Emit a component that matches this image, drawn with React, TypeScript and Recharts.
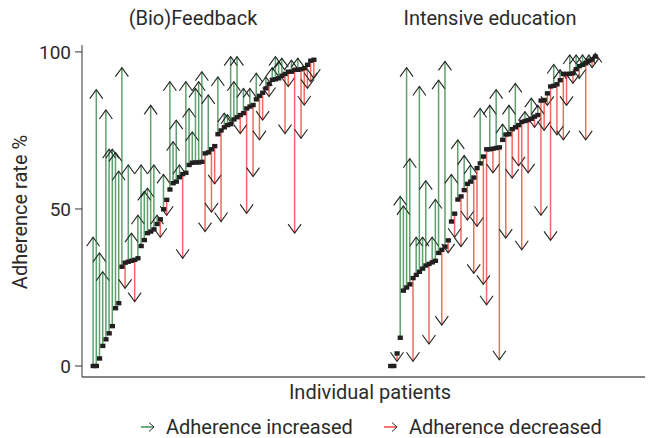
import React from 'react';
import { ComposedChart, Bar, Line, XAxis, YAxis } from 'recharts';

// facet titles
const panelTitles = ['(Bio)Feedback', 'Intensive education'];

// (Bio)Feedback: baseline and follow-up adherence per patient, sorted by baseline
const feedbackBaseline = [
  0, 0, 2.4, 6.4, 8.5, 10.4, 12.7, 18.4, 20, 31.6,
  32.9, 33.2, 33.5, 33.8, 34.3, 38.2, 40.1, 42.3, 42.8, 43.5,
  45.2, 46.7, 49.9, 52.9, 56.2, 58.2, 58.7, 60.1, 61.1, 61.5,
  64, 64.7, 64.8, 64.8, 65, 67.7, 68, 69, 70, 73.8,
  75, 76, 76.7, 77, 78.5, 79.2, 79.9, 80.5, 82, 82.6,
  83.1, 84.9, 86, 87, 88.4, 89.8, 91.1, 91.3, 91.6, 92.4,
  93, 93.7, 93.7, 94.3, 94.3, 94.5, 94.8, 95.9, 97.2, 97.5,
];
const feedbackFollowUp = [
  41, 88, 36, 30, 81.5, 69, 69, 68, 62, 95,
  24.7, 64, 42.3, 20.5, 48, 64, 55.6, 56.6, 83, 64,
  48, 41, 61, 48, 90.5, 71.4, 78.3, 64, 34.3, 90.5,
  82, 74.5, 88.4, 90.5, 93.7, 42.8, 86.3, 49, 58, 92,
  46, 80.5, 80, 98.5, 90.5, 98.5, 74, 88.4, 48.6, 88.4,
  60.3, 93.2, 72, 78.3, 92, 85.8, 95, 98.5, 97, 98,
  74, 89, 97.4, 42.3, 98, 72.5, 83.1, 88.4, 90.5, 91.6,
];

// Intensive education
const educationBaseline = [
  0, 0, 4, 9, 24, 25, 26, 28, 29, 30,
  31, 32, 32.5, 33, 33.5, 36, 37, 38, 40, 46,
  48.5, 53, 54, 56, 58, 58.7, 60, 63, 64.5, 66.7,
  69, 69, 69.2, 69.4, 69.6, 72, 73.7, 73.8, 75.4, 76,
  76.7, 77.7, 78, 78.3, 78.7, 79.4, 79.9, 84.5, 84.7, 86.8,
  89, 89.2, 89.7, 91, 93, 93, 93, 93.2, 94.5, 95.5,
  95.9, 96.4, 97.2, 97.6, 98.5,
];
const educationFollowUp = [
  0, 0, 1.5, 54, 51, 95, 66, 1.5, 41, 89,
  41, 59, 7, 41, 53, 91, 13, 97, 36, 61,
  41, 72, 38, 67, 46.5, 64, 29.5, 44.5, 82, 26,
  19.5, 83, 61.5, 88, 2, 77, 40.7, 83, 59.8, 90,
  63.7, 37, 81, 61.5, 85.3, 76, 83, 48, 75, 83,
  40, 96, 73.6, 94.3, 72, 83, 99, 90, 99, 91.6,
  99, 72, 99, 95, 99.5,
];

const yTicks = [0, 50, 100];
const legendLabels = ['Adherence increased', 'Adherence decreased'];

const GREEN = '#1f7d36';
const RED = '#ee2f25';
const INK = '#231f20';
const FONT = 'Roboto, "DejaVu Sans", sans-serif';

// empty slots before, between and after the two groups of patients
const LEAD = 3;
const GAP = 23;
const TAIL = 15;

type Row = {
  slot: number;
  base: number | null;
  follow: number | null;
  range: [number, number] | null;
  up: boolean;
};

function buildRows(): Row[] {
  const rows: Row[] = [];
  const blank = (n: number) => {
    for (let i = 0; i < n; i++) {
      rows.push({ slot: rows.length, base: null, follow: null, range: null, up: false });
    }
  };
  const group = (base: number[], follow: number[]) => {
    base.forEach((b, i) => {
      const f = follow[i];
      rows.push({
        slot: rows.length,
        base: b,
        follow: f,
        range: f === b ? null : [Math.min(b, f), Math.max(b, f)],
        up: f > b,
      });
    });
  };
  blank(LEAD);
  group(feedbackBaseline, feedbackFollowUp);
  blank(GAP);
  group(educationBaseline, educationFollowUp);
  blank(TAIL);
  return rows;
}

const rows = buildRows();

function Arrow(props: any) {
  const { x, y, width, height, payload } = props;
  if (!payload || payload.range == null || x == null || y == null) return <g />;
  const cx = x + width / 2;
  const top = Math.min(y, y + height);
  const bottom = Math.max(y, y + height);
  const tip = payload.up ? top : bottom;
  const back = payload.up ? 9 : -9;
  return (
    <g>
      <line
        x1={cx}
        x2={cx}
        y1={top}
        y2={bottom}
        stroke={payload.up ? GREEN : RED}
        strokeWidth={1.5}
        strokeOpacity={0.72}
      />
      <polyline
        points={`${cx - 6.5},${tip + back} ${cx},${tip} ${cx + 6.5},${tip + back}`}
        fill="none"
        stroke="#222"
        strokeWidth={1.1}
      />
    </g>
  );
}

function Square(props: any) {
  const { cx, cy, payload, index } = props;
  if (!payload || payload.base == null || cx == null || cy == null) return <g key={index} />;
  return <rect key={index} x={cx - 2.6} y={cy - 2.2} width={5.2} height={4.4} fill={INK} />;
}

function LegendArrow({ color }: { color: string }) {
  return (
    <svg width={16} height={12} style={{ marginRight: 10 }}>
      <line x1={1} y1={6} x2={14} y2={6} stroke={color} strokeWidth={1.3} />
      <polyline points="9,1.5 14,6 9,10.5" fill="none" stroke="#2b2b2b" strokeWidth={1} />
    </svg>
  );
}

const text: React.CSSProperties = {
  position: 'absolute',
  fontFamily: FONT,
  fontSize: 20,
  color: '#2b2b2b',
  whiteSpace: 'nowrap',
  lineHeight: '22px',
};

export default function App() {
  return (
    <div style={{ position: 'absolute', left: 0, top: 0, width: 667, height: 438, background: '#fff' }}>
      <ComposedChart
        width={667}
        height={438}
        data={rows}
        margin={{ top: 45, right: 22, bottom: 31, left: 22 }}
        barCategoryGap={0}
        barGap={0}
      >
        <XAxis
          dataKey="slot"
          type="category"
          tick={false}
          tickLine={false}
          height={30}
          axisLine={{ stroke: '#5c5c5c', strokeWidth: 1.5 }}
        />
        <YAxis
          type="number"
          domain={[-3.5, 102.2]}
          ticks={yTicks}
          allowDataOverflow
          width={60}
          tickSize={7}
          tickMargin={4}
          tick={{ fontSize: 19, fill: '#2b2b2b', fontFamily: FONT }}
          axisLine={{ stroke: '#333' }}
          tickLine={{ stroke: '#333' }}
        />
        <Bar dataKey="range" shape={Arrow} isAnimationActive={false} />
        <Line
          dataKey="base"
          stroke="none"
          dot={Square}
          activeDot={false}
          isAnimationActive={false}
        />
      </ComposedChart>

      <div style={{ ...text, left: 193, top: 7, transform: 'translateX(-50%)' }}>{panelTitles[0]}</div>
      <div style={{ ...text, left: 490, top: 7, transform: 'translateX(-50%)' }}>{panelTitles[1]}</div>

      <div
        style={{
          ...text,
          left: 20,
          top: 212,
          transform: 'translate(-50%, -50%) rotate(-90deg)',
        }}
      >
        Adherence rate %
      </div>

      <div style={{ ...text, left: 370, top: 381, transform: 'translateX(-50%)' }}>Individual patients</div>

      <div style={{ ...text, left: 140, top: 416, display: 'flex', alignItems: 'center' }}>
        <LegendArrow color={GREEN} />
        <span>{legendLabels[0]}</span>
        <span style={{ width: 30 }} />
        <LegendArrow color={RED} />
        <span>{legendLabels[1]}</span>
      </div>
    </div>
  );
}
